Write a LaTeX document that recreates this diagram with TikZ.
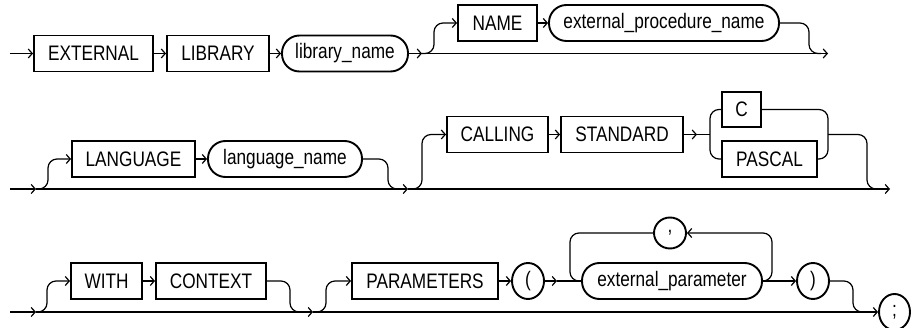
\documentclass[tikz,border=0pt]{standalone}
\usepackage{fontspec}
\setmainfont{Liberation Sans}[FakeStretch=0.82]
\usetikzlibrary{arrows.meta,shapes.geometric}
\begin{document}
\begin{tikzpicture}[x=1pt,y=-1pt,
  txt/.style={font=\fontsize{21}{24}\selectfont},
  kw/.style={txt,draw,line width=1.9pt,minimum height=36pt,inner sep=0pt},
  term/.style={kw,rounded corners=17.5pt},
  sym/.style={txt,draw,ellipse,line width=1.9pt,minimum width=32pt,minimum height=36pt,inner sep=0pt},
  rail/.style={line width=1.2pt},
  arr/.style={rail,-{Straight Barb[length=4pt,width=9pt]}},
  railbend/.style={rail,rounded corners=9pt}]
\useasboundingbox (0,0) rectangle (913,328);

% ---------- row 1 ----------
\node[kw,minimum width=119pt] (ext) at (93.5,53.5) {EXTERNAL};
\node[kw,minimum width=102pt] (lib) at (218,53.5) {LIBRARY};
\node[term,minimum width=126pt] (libn) at (345,53.5) {library\_name};
\node[kw,minimum width=79pt] (name) at (497.5,23) {NAME};
\node[term,minimum width=230pt] (epn) at (664,23) {external\_procedure\_name};
\coordinate (s1) at (10,53.5);
\coordinate (j1) at (422,53.5);
\coordinate (e1) at (828,53.5);

\draw[arr] (s1) -- (ext);
\draw[arr] (ext) -- (lib);
\draw[arr] (lib) -- (libn);
\draw[arr] (libn) -- (j1);
\draw[arr] (j1) -- (e1);
\draw[railbend,arr] (j1) -| (434,23) -- (name);
\draw[arr] (name) -- (epn);
\draw[railbend] (epn.east) -| (809,53.5) -- (821,53.5);

% ---------- row 2 ----------
\node[kw,minimum width=123pt] (lang) at (133.5,159) {LANGUAGE};
\node[term,minimum width=154pt] (langn) at (285,159) {language\_name};
\node[kw,minimum width=101pt] (call) at (497.5,134.5) {CALLING};
\node[kw,minimum width=122pt] (std) at (622,134.5) {STANDARD};
\node[kw,minimum width=39pt,minimum height=35pt] (c) at (741.5,109.5) {C};
\node[kw,minimum width=95pt] (pas) at (769.5,159) {PASCAL};
\coordinate (s2) at (10,189);
\coordinate (j2a) at (36,189);
\coordinate (j2b) at (408,189);
\coordinate (j2c) at (697,134.5);
\coordinate (e2) at (890,189);

\draw[arr] (s2) -- (j2a);
\draw[arr] (j2a) -- (j2b);
\draw[arr] (j2b) -- (e2);
\draw[railbend,arr] (j2a) -| (48,159) -- (lang);
\draw[arr] (lang) -- (langn);
\draw[railbend] (langn.east) -| (388,189) -- (400,189);
\draw[railbend,arr] (j2b) -| (422,134.5) -- (call);
\draw[arr] (call) -- (std);
\draw[arr] (std) -- (j2c);
\draw[rail] (j2c) -- (710,134.5);
\draw[railbend] (c.west) -| (710,134.5) |- (pas.west);
\draw[railbend] (c.east) -| (828,134.5) |- (pas.east);
\draw[railbend] (828,134.5) -| (867,189) -- (879,189);

% ---------- row 3 ----------
\node[kw,minimum width=71pt] (with) at (106.5,281) {WITH};
\node[kw,minimum width=110pt] (ctx) at (211,281) {CONTEXT};
\node[kw,minimum width=146pt] (par) at (425,281) {PARAMETERS};
\node[sym] (lp) at (528,281) {(};
\node[term,minimum width=180pt] (ep) at (672,281) {external\_parameter};
\node[sym] (rp) at (813,281) {)};
\node[sym,minimum height=31pt] (comma) at (670,233) {,};
\node[sym,minimum width=31pt] (semi) at (894.5,312) {;};
\coordinate (s3) at (10,312);
\coordinate (j3a) at (36,312);
\coordinate (j3b) at (313,312);
\coordinate (j3c) at (557,281);

\draw[arr] (s3) -- (j3a);
\draw[arr] (j3a) -- (j3b);
\draw[arr] (j3b) -- (semi);
\draw[railbend,arr] (j3a) -| (47,281) -- (with);
\draw[arr] (with) -- (ctx);
\draw[railbend] (ctx.east) -| (290,312) -- (301,312);
\draw[railbend,arr] (j3b) -| (326,281) -- (par);
\draw[arr] (par) -- (lp);
\draw[arr] (lp) -- (j3c);
\draw[rail] (j3c) -- (ep);
\draw[railbend] (comma.west) -| (570,281) -- (ep.west);
\draw[railbend,arr] (ep.east) -| (772,233) -- (comma.east);
\draw[arr] (ep) -- (rp);
\draw[railbend] (rp.east) -| (853,312) -- (865,312);
\end{tikzpicture}
\end{document}
